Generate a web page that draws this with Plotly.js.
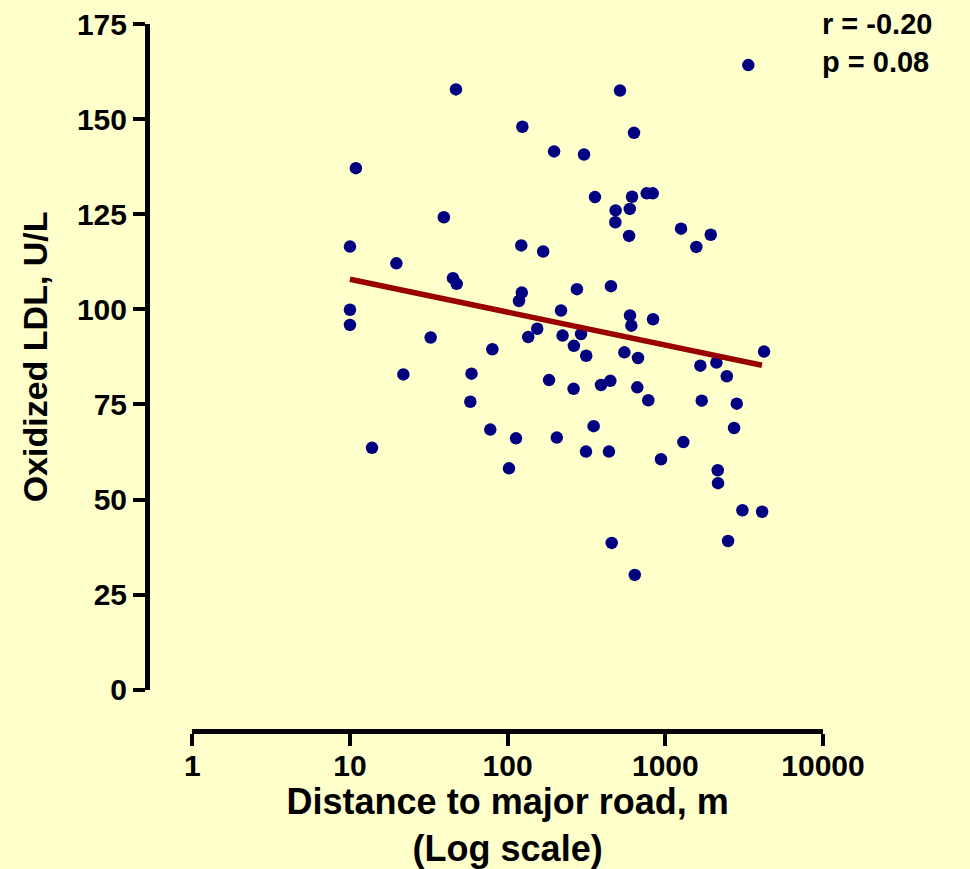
<!DOCTYPE html>
<html>
<head>
<meta charset="utf-8">
<script src="https://cdn.plot.ly/plotly-3.0.1.min.js"></script>
<style>
  html, body { margin: 0; padding: 0; background: #FFFFCC; }
  #chart { width: 970px; height: 869px; }
</style>
</head>
<body>
<div id="chart"></div>
<script>
// Distance to major road (m) and oxidized LDL (U/L)
const distance = [47, 124, 197, 10.9, 39.4, 10, 122, 168, 275, 19.7,
  45, 47.5, 123, 118, 218, 10, 10, 154, 135, 223,
  263, 292, 32.5, 80, 21.8, 59, 183, 262, 58, 77.6,
  113, 205, 13.8, 102, 3360, 516, 633, 305, 358, 615,
  762, 832, 484, 595, 482, 589, 1258, 1941, 1573, 452,
  597, 609, 836, 315, 550, 671, 4228, 1668, 2108, 2454,
  391, 448, 664, 780, 1702, 2838, 351, 1301, 2729, 314,
  439, 939, 2149, 2159, 3082, 4110, 457, 2500, 640];
const oxLDL = [157.8, 148.0, 141.5, 137.1, 124.2, 116.5, 116.8, 115.2, 105.3, 112.1,
  108.2, 106.7, 104.4, 102.2, 99.7, 99.9, 95.9, 94.9, 92.7, 93.1,
  90.4, 93.5, 92.6, 89.5, 82.9, 83.1, 81.4, 79.1, 75.7, 68.4,
  66.1, 66.3, 63.6, 58.2, 164.2, 157.5, 146.4, 140.7, 129.5, 129.6,
  130.5, 130.5, 126.0, 126.4, 122.9, 119.3, 121.2, 119.6, 116.4, 106.1,
  98.4, 95.7, 97.4, 87.8, 88.7, 87.2, 88.9, 85.2, 86.0, 82.4,
  80.1, 81.2, 79.5, 76.1, 76.0, 75.2, 69.3, 65.1, 68.8, 62.6,
  62.6, 60.6, 57.7, 54.3, 47.2, 46.8, 38.6, 39.1, 30.2];

// Regression line end points
const fitX = [10, 4100];
const fitY = [107.9, 85.3];

const xTickVals = [1, 10, 100, 1000, 10000];
const xTickText = ['1', '10', '100', '1000', '10000'];
const yTickVals = [0, 25, 50, 75, 100, 125, 150, 175];

const statsText = ['r = -0.20', 'p = 0.08'];

const bg = '#FFFFCC';
const fontFam = 'Liberation Sans, Arial, sans-serif';

const traces = [
  {
    x: distance, y: oxLDL, type: 'scatter', mode: 'markers',
    marker: { color: '#000080', size: 12.5 },
    hoverinfo: 'skip', showlegend: false
  },
  {
    x: fitX, y: fitY, type: 'scatter', mode: 'lines',
    line: { color: '#990000', width: 5.5 },
    hoverinfo: 'skip', showlegend: false
  }
];

const layout = {
  width: 970, height: 869,
  paper_bgcolor: bg, plot_bgcolor: bg,
  margin: { l: 147, r: 147, t: 24, b: 138, pad: 0 },
  font: { family: fontFam, color: '#000', size: 30, weight: 'bold' },
  showlegend: false,
  xaxis: {
    type: 'log', range: [0, 4], domain: [0.067, 1],
    anchor: 'free', position: 0,
    tickvals: xTickVals, ticktext: xTickText,
    ticks: 'outside', ticklen: 12, tickwidth: 4, tickcolor: '#000',
    ticklabelstandoff: -6,
    showline: true, linewidth: 5, linecolor: '#000',
    showgrid: false, zeroline: false,
    tickfont: { family: fontFam, size: 30, weight: 'bold', color: '#000' },
    title: {
      text: 'Distance to major road, m<br>(Log scale)',
      font: { family: fontFam, size: 36, weight: 'bold', color: '#000' },
      standoff: 17
    }
  },
  yaxis: {
    range: [0, 175], domain: [0.0583, 1],
    anchor: 'free', position: 0,
    tickvals: yTickVals,
    ticks: 'outside', ticklen: 12, tickwidth: 4, tickcolor: '#000',
    showline: true, linewidth: 5, linecolor: '#000',
    showgrid: false, zeroline: false,
    tickfont: { family: fontFam, size: 30, weight: 'bold', color: '#000' },
    title: {
      text: 'Oxidized LDL, U/L',
      font: { family: fontFam, size: 34, weight: 'bold', color: '#000' },
      standoff: 18
    }
  },
  annotations: [
    {
      xref: 'paper', yref: 'paper', x: 0.996, y: 1.026,
      xanchor: 'left', yanchor: 'top',
      text: statsText.join('<br>'), showarrow: false, align: 'left',
      font: { family: fontFam, size: 29, weight: 'bold', color: '#000' }
    }
  ]
};

Plotly.newPlot('chart', traces, layout, { displayModeBar: false, staticPlot: true });
</script>
</body>
</html>
